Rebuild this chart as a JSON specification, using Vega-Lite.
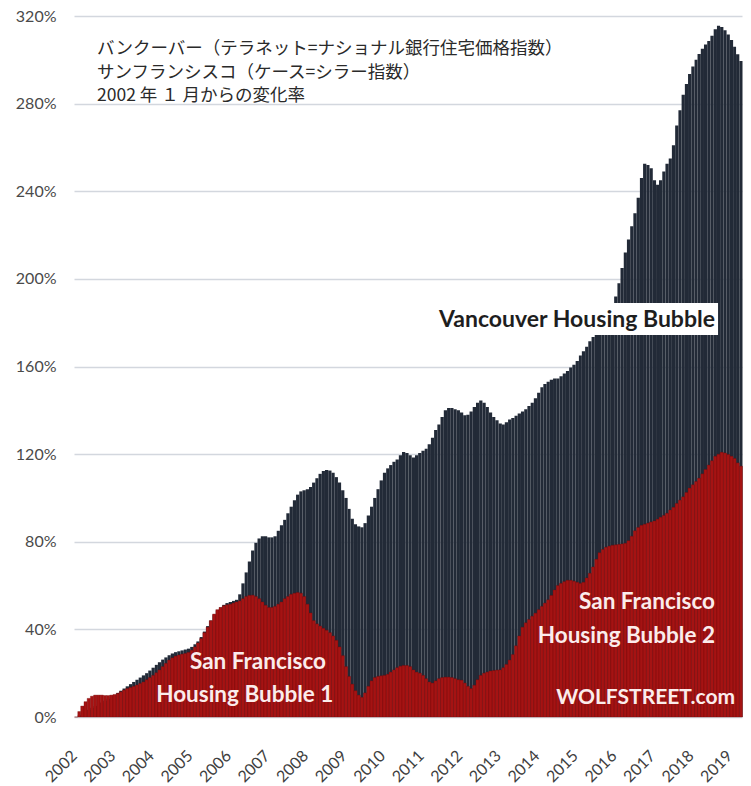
{
  "$schema": "https://vega.github.io/schema/vega-lite/v6.json",
  "autosize": {"type": "none"},
  "width": 668,
  "height": 701,
  "padding": {"left": 74, "top": 16, "right": 9, "bottom": 69},
  "background": "white",
  "config": {"view": {"stroke": null}, "axisX": {"labelOverlap": false}},
  "resolve": {"axis": {"x": "independent"}},
  "datasets": {
    "m": [
      {"d":"2002-01-01","v":0,"s":0},{"d":"2002-02-01","v":0.8,"s":2.5},{"d":"2002-03-01","v":1.6,"s":5.0},{"d":"2002-04-01","v":2.5,"s":7.0},{"d":"2002-05-01","v":3.3,"s":8.5},{"d":"2002-06-01","v":4.2,"s":9.5},{"d":"2002-07-01","v":5.0,"s":10.0},{"d":"2002-08-01","v":5.8,"s":10.0},{"d":"2002-09-01","v":6.6,"s":10.0},{"d":"2002-10-01","v":7.4,"s":9.8},{"d":"2002-11-01","v":8.3,"s":9.8},{"d":"2002-12-01","v":9.2,"s":10.0},
      {"d":"2003-01-01","v":10.0,"s":10.3},{"d":"2003-02-01","v":11.0,"s":10.8},{"d":"2003-03-01","v":12.0,"s":11.5},{"d":"2003-04-01","v":13.0,"s":12.3},{"d":"2003-05-01","v":14.0,"s":13.0},{"d":"2003-06-01","v":15.0,"s":13.5},{"d":"2003-07-01","v":16.0,"s":14.0},{"d":"2003-08-01","v":17.0,"s":14.6},{"d":"2003-09-01","v":18.0,"s":15.3},{"d":"2003-10-01","v":19.0,"s":16.0},{"d":"2003-11-01","v":20.0,"s":17.0},{"d":"2003-12-01","v":21.2,"s":18.0},
      {"d":"2004-01-01","v":22.5,"s":19.0},{"d":"2004-02-01","v":23.8,"s":20.2},{"d":"2004-03-01","v":25.0,"s":21.5},{"d":"2004-04-01","v":26.2,"s":23.0},{"d":"2004-05-01","v":27.2,"s":24.5},{"d":"2004-06-01","v":28.2,"s":26.0},{"d":"2004-07-01","v":29.0,"s":27.0},{"d":"2004-08-01","v":29.6,"s":27.8},{"d":"2004-09-01","v":30.0,"s":28.3},{"d":"2004-10-01","v":30.4,"s":28.7},{"d":"2004-11-01","v":30.8,"s":29.0},{"d":"2004-12-01","v":31.2,"s":29.5},
      {"d":"2005-01-01","v":32.0,"s":30.5},{"d":"2005-02-01","v":33.2,"s":32.0},{"d":"2005-03-01","v":34.5,"s":33.8},{"d":"2005-04-01","v":36.5,"s":35.8},{"d":"2005-05-01","v":39.0,"s":38.5},{"d":"2005-06-01","v":41.5,"s":41.0},{"d":"2005-07-01","v":44.0,"s":44.0},{"d":"2005-08-01","v":46.5,"s":47.0},{"d":"2005-09-01","v":48.5,"s":49.0},{"d":"2005-10-01","v":50.0,"s":50.0},{"d":"2005-11-01","v":51.2,"s":50.8},{"d":"2005-12-01","v":52.0,"s":51.2},
      {"d":"2006-01-01","v":52.5,"s":51.5},{"d":"2006-02-01","v":53.0,"s":52.0},{"d":"2006-03-01","v":53.5,"s":52.5},{"d":"2006-04-01","v":56.0,"s":53.0},{"d":"2006-05-01","v":61.0,"s":54.0},{"d":"2006-06-01","v":66.0,"s":55.0},{"d":"2006-07-01","v":71.0,"s":55.5},{"d":"2006-08-01","v":76.0,"s":55.6},{"d":"2006-09-01","v":79.5,"s":55.0},{"d":"2006-10-01","v":81.5,"s":54.0},{"d":"2006-11-01","v":82.5,"s":52.5},{"d":"2006-12-01","v":82.5,"s":51.0},
      {"d":"2007-01-01","v":82.0,"s":50.0},{"d":"2007-02-01","v":82.0,"s":50.0},{"d":"2007-03-01","v":82.5,"s":50.5},{"d":"2007-04-01","v":85.0,"s":51.5},{"d":"2007-05-01","v":87.5,"s":52.5},{"d":"2007-06-01","v":90.0,"s":54.0},{"d":"2007-07-01","v":93.0,"s":55.0},{"d":"2007-08-01","v":96.0,"s":56.0},{"d":"2007-09-01","v":99.0,"s":56.5},{"d":"2007-10-01","v":101.5,"s":56.8},{"d":"2007-11-01","v":103.0,"s":56.5},{"d":"2007-12-01","v":103.5,"s":55.0},
      {"d":"2008-01-01","v":104.0,"s":51.5},{"d":"2008-02-01","v":105.0,"s":47.5},{"d":"2008-03-01","v":107.0,"s":44.0},{"d":"2008-04-01","v":109.0,"s":42.5},{"d":"2008-05-01","v":111.0,"s":41.5},{"d":"2008-06-01","v":112.3,"s":40.5},{"d":"2008-07-01","v":112.8,"s":39.6},{"d":"2008-08-01","v":112.5,"s":38.5},{"d":"2008-09-01","v":111.5,"s":37.0},{"d":"2008-10-01","v":109.5,"s":35.0},{"d":"2008-11-01","v":107.0,"s":32.0},{"d":"2008-12-01","v":103.5,"s":28.0},
      {"d":"2009-01-01","v":100.0,"s":23.0},{"d":"2009-02-01","v":95.0,"s":18.5},{"d":"2009-03-01","v":90.5,"s":15.0},{"d":"2009-04-01","v":88.0,"s":12.0},{"d":"2009-05-01","v":87.0,"s":10.0},{"d":"2009-06-01","v":86.6,"s":9.0},{"d":"2009-07-01","v":88.5,"s":11.0},{"d":"2009-08-01","v":92.0,"s":14.0},{"d":"2009-09-01","v":96.0,"s":16.5},{"d":"2009-10-01","v":100.0,"s":18.0},{"d":"2009-11-01","v":104.0,"s":18.5},{"d":"2009-12-01","v":108.0,"s":18.8},
      {"d":"2010-01-01","v":111.5,"s":19.0},{"d":"2010-02-01","v":113.5,"s":19.5},{"d":"2010-03-01","v":115.0,"s":20.5},{"d":"2010-04-01","v":116.5,"s":21.5},{"d":"2010-05-01","v":117.5,"s":22.5},{"d":"2010-06-01","v":119.5,"s":23.2},{"d":"2010-07-01","v":121.0,"s":23.5},{"d":"2010-08-01","v":120.5,"s":23.5},{"d":"2010-09-01","v":119.5,"s":23.0},{"d":"2010-10-01","v":118.5,"s":21.5},{"d":"2010-11-01","v":119.5,"s":20.5},{"d":"2010-12-01","v":120.5,"s":20.0},
      {"d":"2011-01-01","v":121.5,"s":19.0},{"d":"2011-02-01","v":122.5,"s":17.5},{"d":"2011-03-01","v":124.5,"s":16.0},{"d":"2011-04-01","v":127.5,"s":15.5},{"d":"2011-05-01","v":131.0,"s":16.5},{"d":"2011-06-01","v":133.5,"s":17.5},{"d":"2011-07-01","v":137.0,"s":18.0},{"d":"2011-08-01","v":140.0,"s":18.2},{"d":"2011-09-01","v":141.0,"s":18.2},{"d":"2011-10-01","v":141.0,"s":18.0},{"d":"2011-11-01","v":140.5,"s":17.5},{"d":"2011-12-01","v":140.0,"s":17.0},
      {"d":"2012-01-01","v":139.0,"s":16.8},{"d":"2012-02-01","v":137.8,"s":15.5},{"d":"2012-03-01","v":138.0,"s":14.0},{"d":"2012-04-01","v":139.5,"s":13.0},{"d":"2012-05-01","v":141.5,"s":14.5},{"d":"2012-06-01","v":143.5,"s":17.0},{"d":"2012-07-01","v":144.5,"s":19.0},{"d":"2012-08-01","v":143.5,"s":20.0},{"d":"2012-09-01","v":141.5,"s":20.5},{"d":"2012-10-01","v":139.0,"s":21.0},{"d":"2012-11-01","v":137.0,"s":21.2},{"d":"2012-12-01","v":135.5,"s":21.4},
      {"d":"2013-01-01","v":134.0,"s":21.5},{"d":"2013-02-01","v":133.5,"s":22.5},{"d":"2013-03-01","v":134.5,"s":24.0},{"d":"2013-04-01","v":135.8,"s":26.0},{"d":"2013-05-01","v":136.5,"s":28.5},{"d":"2013-06-01","v":137.5,"s":32.5},{"d":"2013-07-01","v":138.5,"s":37.0},{"d":"2013-08-01","v":139.5,"s":41.0},{"d":"2013-09-01","v":140.5,"s":43.0},{"d":"2013-10-01","v":142.0,"s":44.5},{"d":"2013-11-01","v":143.5,"s":46.0},{"d":"2013-12-01","v":145.5,"s":47.4},
      {"d":"2014-01-01","v":148.0,"s":49.0},{"d":"2014-02-01","v":150.5,"s":50.5},{"d":"2014-03-01","v":152.0,"s":52.0},{"d":"2014-04-01","v":153.0,"s":53.5},{"d":"2014-05-01","v":154.0,"s":55.5},{"d":"2014-06-01","v":154.5,"s":58.0},{"d":"2014-07-01","v":154.5,"s":60.0},{"d":"2014-08-01","v":155.5,"s":61.0},{"d":"2014-09-01","v":156.8,"s":61.8},{"d":"2014-10-01","v":158.0,"s":62.4},{"d":"2014-11-01","v":159.5,"s":62.4},{"d":"2014-12-01","v":160.8,"s":62.0},
      {"d":"2015-01-01","v":162.5,"s":61.5},{"d":"2015-02-01","v":165.0,"s":61.0},{"d":"2015-03-01","v":167.0,"s":61.5},{"d":"2015-04-01","v":169.0,"s":63.5},{"d":"2015-05-01","v":171.5,"s":65.6},{"d":"2015-06-01","v":173.5,"s":68.5},{"d":"2015-07-01","v":175.5,"s":72.0},{"d":"2015-08-01","v":177.0,"s":75.0},{"d":"2015-09-01","v":178.0,"s":76.5},{"d":"2015-10-01","v":180.0,"s":77.5},{"d":"2015-11-01","v":183.5,"s":78.0},{"d":"2015-12-01","v":187.5,"s":78.4},
      {"d":"2016-01-01","v":192.0,"s":78.6},{"d":"2016-02-01","v":198.0,"s":78.8},{"d":"2016-03-01","v":205.0,"s":79.0},{"d":"2016-04-01","v":212.0,"s":79.3},{"d":"2016-05-01","v":218.0,"s":80.5},{"d":"2016-06-01","v":224.0,"s":82.5},{"d":"2016-07-01","v":230.0,"s":85.0},{"d":"2016-08-01","v":237.0,"s":86.5},{"d":"2016-09-01","v":246.0,"s":87.5},{"d":"2016-10-01","v":252.5,"s":88.0},{"d":"2016-11-01","v":252.0,"s":88.5},{"d":"2016-12-01","v":250.5,"s":89.0},
      {"d":"2017-01-01","v":245.0,"s":89.5},{"d":"2017-02-01","v":243.0,"s":90.3},{"d":"2017-03-01","v":245.0,"s":91.2},{"d":"2017-04-01","v":249.0,"s":92.0},{"d":"2017-05-01","v":252.5,"s":93.0},{"d":"2017-06-01","v":255.0,"s":94.5},{"d":"2017-07-01","v":261.0,"s":95.7},{"d":"2017-08-01","v":270.0,"s":97.5},{"d":"2017-09-01","v":277.0,"s":99.0},{"d":"2017-10-01","v":284.0,"s":100.5},{"d":"2017-11-01","v":289.0,"s":102.5},{"d":"2017-12-01","v":293.5,"s":104.5},
      {"d":"2018-01-01","v":297.0,"s":106.0},{"d":"2018-02-01","v":300.0,"s":107.5},{"d":"2018-03-01","v":302.6,"s":109.0},{"d":"2018-04-01","v":305.0,"s":111.0},{"d":"2018-05-01","v":307.0,"s":113.0},{"d":"2018-06-01","v":308.6,"s":115.0},{"d":"2018-07-01","v":311.0,"s":117.0},{"d":"2018-08-01","v":314.0,"s":119.0},{"d":"2018-09-01","v":315.5,"s":120.0},{"d":"2018-10-01","v":315.0,"s":120.8},{"d":"2018-11-01","v":313.5,"s":120.5},{"d":"2018-12-01","v":311.5,"s":119.8},
      {"d":"2019-01-01","v":309.0,"s":119.0},{"d":"2019-02-01","v":306.0,"s":118.0},{"d":"2019-03-01","v":302.5,"s":116.0},{"d":"2019-04-01","v":299.5,"s":114.5}
    ]
  },
  "layer": [
    {
      "data": {"name": "m"},
      "mark": {"type": "bar", "color": "#222a37", "binSpacing": 0},
      "encoding": {
        "x": {
          "field": "d", "type": "temporal", "timeUnit": "utcyearmonth",
          "scale": {"domain": [1009843200000, 1556668800000]},
          "axis": {
            "orient": "bottom", "title": null, "grid": false, "domain": false, "ticks": false,
            "values": [1009843200000, 1072915200000, 1136073600000, 1199145600000, 1262304000000, 1325376000000, 1388534400000, 1451606400000, 1514764800000],
            "labelExpr": "utcFormat(datum.value, '%Y')",
            "labelAngle": -45, "labelAlign": "right", "labelBaseline": "middle",
            "labelPadding": 36, "labelFontSize": 16, "labelFont": "Lato", "labelColor": "#404040",
            "labelFlush": false, "labelBound": false, "labelOverlap": false
          }
        },
        "y": {
          "field": "v", "type": "quantitative",
          "scale": {"domain": [0, 320], "nice": false},
          "axis": {
            "title": null, "domain": false, "ticks": false, "grid": true,
            "gridColor": "#d3d7de", "gridWidth": 1.5,
            "values": [0, 40, 80, 120, 160, 200, 240, 280, 320],
            "labelExpr": "datum.value + '%'",
            "labelPadding": 18, "labelFontSize": 16, "labelFont": "Lato", "labelColor": "#4a4a4a"
          }
        }
      }
    },
    {
      "data": {"name": "m"},
      "mark": {"type": "bar", "color": "#a51313", "binSpacing": 0, "stroke": "#760909", "strokeWidth": 0.5, "strokeOpacity": 0.7},
      "encoding": {
        "x": {
          "field": "d", "type": "temporal", "timeUnit": "utcyearmonth",
          "axis": {
            "orient": "bottom", "title": null, "grid": false, "domain": false, "ticks": false,
            "values": [1041379200000, 1104537600000, 1167609600000, 1230768000000, 1293840000000, 1356998400000, 1420070400000, 1483228800000, 1546300800000],
            "labelExpr": "utcFormat(datum.value, '%Y')",
            "labelAngle": -45, "labelAlign": "right", "labelBaseline": "middle",
            "labelPadding": 36, "labelFontSize": 16, "labelFont": "Lato", "labelColor": "#404040",
            "labelFlush": false, "labelBound": false, "labelOverlap": false
          }
        },
        "y": {"field": "s", "type": "quantitative"}
      }
    },
    {
      "data": {"values": [{"d": "2011-05-13", "d2": "2018-09-16", "y": 189, "y2": 174.4}]},
      "mark": {"type": "rect", "color": "white"},
      "encoding": {
        "x": {"field": "d", "type": "temporal", "timeUnit": "utcyearmonthdate", "axis": null},
        "x2": {"field": "d2", "timeUnit": "utcyearmonthdate"},
        "y": {"field": "y", "type": "quantitative"},
        "y2": {"field": "y2"}
      }
    },
    {
      "data": {"values": [{"d": "2015-01-19", "y": 181.2, "t": "Vancouver Housing Bubble"}]},
      "mark": {"type": "text", "font": "Lato", "fontWeight": "bold", "fontSize": 23, "color": "#1e1e1e", "align": "center", "baseline": "middle"},
      "encoding": {
        "x": {"field": "d", "type": "temporal", "timeUnit": "utcyearmonthdate", "axis": null},
        "y": {"field": "y", "type": "quantitative"},
        "text": {"field": "t"}
      }
    },
    {
      "data": {"values": [
        {"d": "2006-10-10", "y": 24.9, "t": "San Francisco"},
        {"d": "2006-06-07", "y": 10.0, "t": "Housing Bubble 1"}
      ]},
      "mark": {"type": "text", "font": "Lato", "fontWeight": "bold", "fontSize": 22.5, "color": "#fbecec", "align": "center", "baseline": "middle"},
      "encoding": {
        "x": {"field": "d", "type": "temporal", "timeUnit": "utcyearmonthdate", "axis": null},
        "y": {"field": "y", "type": "quantitative"},
        "text": {"field": "t"}
      }
    },
    {
      "data": {"values": [
        {"d": "2018-08-18", "y": 52.5, "t": "San Francisco"},
        {"d": "2018-08-18", "y": 37.0, "t": "Housing Bubble 2"}
      ]},
      "mark": {"type": "text", "font": "Lato", "fontWeight": "bold", "fontSize": 22.5, "color": "#fbecec", "align": "right", "baseline": "middle"},
      "encoding": {
        "x": {"field": "d", "type": "temporal", "timeUnit": "utcyearmonthdate", "axis": null},
        "y": {"field": "y", "type": "quantitative"},
        "text": {"field": "t"}
      }
    },
    {
      "data": {"values": [
        {"d": "2019-02-25", "y": 8.7, "t": "WOLFSTREET.com"}
      ]},
      "mark": {"type": "text", "font": "Lato", "fontWeight": "bold", "fontSize": 21, "color": "#fbecec", "align": "right", "baseline": "middle"},
      "encoding": {
        "x": {"field": "d", "type": "temporal", "timeUnit": "utcyearmonthdate", "axis": null},
        "y": {"field": "y", "type": "quantitative"},
        "text": {"field": "t"}
      }
    },
    {
      "data": {"values": [
        {"d": "2002-08-07", "y": 304.9, "t": "バンクーバー（テラネット=ナショナル銀行住宅価格指数）"},
        {"d": "2002-08-07", "y": 294.2, "t": "サンフランシスコ（ケース=シラー指数）"},
        {"d": "2002-08-07", "y": 283.5, "t": "2002 年 １ 月からの変化率"}
      ]},
      "mark": {"type": "text", "font": "Noto Sans CJK JP", "fontSize": 17.5, "color": "#2a2a2a", "align": "left", "baseline": "middle"},
      "encoding": {
        "x": {"field": "d", "type": "temporal", "timeUnit": "utcyearmonthdate", "axis": null},
        "y": {"field": "y", "type": "quantitative"},
        "text": {"field": "t"}
      }
    }
  ]
}
